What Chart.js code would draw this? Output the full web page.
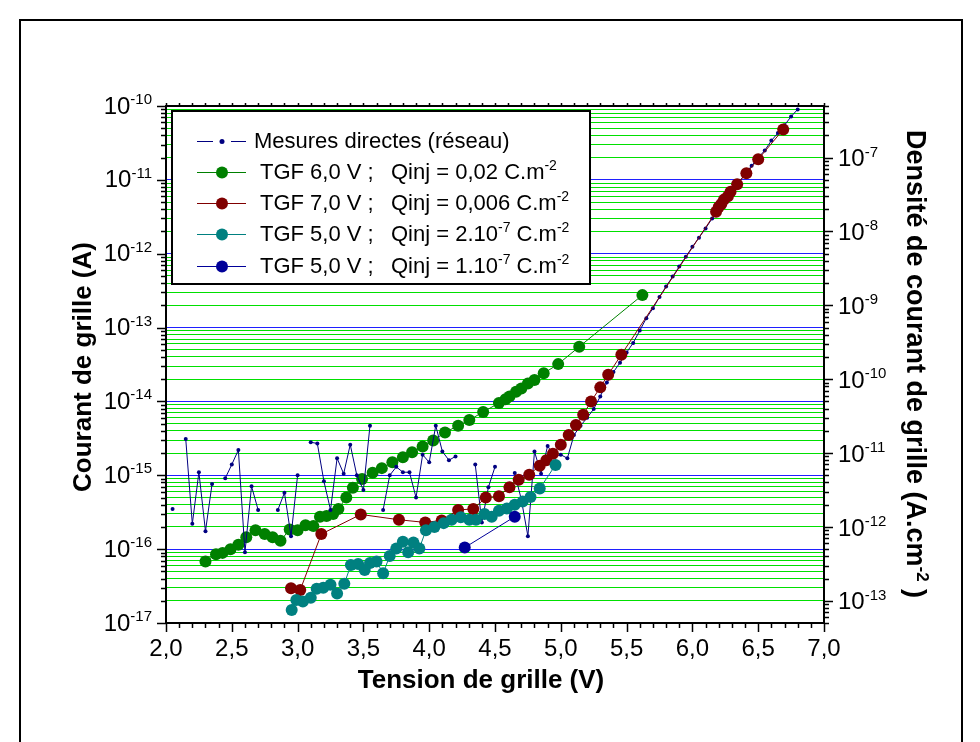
<!DOCTYPE html>
<html>
<head>
<meta charset="utf-8">
<script src="https://cdn.jsdelivr.net/npm/chart.js@4.4.1/dist/chart.umd.min.js"></script>
<style>
html, body { margin: 0; padding: 0; background: #fff; }
#wrap { width: 980px; height: 742px; }
</style>
</head>
<body>
<div id="wrap"><canvas id="chart" width="980" height="742"></canvas></div>
<script>
// Tension de grille (V) -> courant de grille (A)
const mesuresV = [
  2.05, 2.10, 2.15, 2.20, 2.25, 2.30, 2.35, 2.40, 2.45, 2.50,
  2.55, 2.60, 2.65, 2.70, 2.75, 2.80, 2.85, 2.90, 2.95, 3.00,
  3.05, 3.10, 3.15, 3.20, 3.25, 3.30, 3.35, 3.40, 3.45, 3.50,
  3.55, 3.60, 3.65, 3.70, 3.75, 3.80, 3.85, 3.90, 3.95, 4.00,
  4.05, 4.10, 4.15, 4.20, 4.25, 4.30, 4.35, 4.40, 4.45, 4.50,
  4.55, 4.60, 4.65, 4.70, 4.75, 4.80, 4.85, 4.90, 4.95, 5.00,
  5.05, 5.10, 5.15, 5.20, 5.25, 5.30, 5.35, 5.40, 5.45, 5.50,
  5.55, 5.60, 5.65, 5.70, 5.75, 5.80, 5.85, 5.90, 5.95, 6.00,
  6.05, 6.10, 6.15, 6.20, 6.25, 6.30, 6.35, 6.40, 6.45, 6.50,
  6.55, 6.60, 6.65, 6.70, 6.75, 6.80
];
const mesuresI = [
  3.5e-16, null, 3.1e-15, 2.2e-16, 1.1e-15, 1.75e-16, 7.6e-16, null, 9.1e-16, 1.4e-15,
  2.2e-15, 9.1e-17, 7.1e-16, 3.4e-16, null, null, 3.4e-16, 5.8e-16, 1.5e-16, 1.0e-15,
  null, 2.8e-15, 2.7e-15, 8.3e-16, 3.4e-16, 1.7e-15, 1.05e-15, 2.6e-15, 1.0e-15, 6.3e-16,
  4.7e-15, null, 3.4e-16, 1.0e-15, 1.3e-15, 1.1e-15, 1.1e-15, 5.0e-16, 1.9e-15, 1.5e-15,
  4.7e-15, 2.1e-15, 1.6e-15, 1.8e-15, null, null, 1.4e-15, 2.3e-16, 6.9e-16, 1.3e-15,
  null, null, 1.07e-15, 4.7e-16, 1.5e-16, 2.1e-15, 1.05e-15, 2.5e-15, 1.8e-15, 1.9e-15,
  1.7e-15, 3.5e-15, 4.7e-15, 6.0e-15, 7.9e-15, 1.17e-14, 1.8e-14, 2.5e-14, 3.35e-14, 4.6e-14,
  6.2e-14, 9.1e-14, 1.34e-13, 1.82e-13, 2.6e-13, 3.6e-13, 4.9e-13, 6.7e-13, 9.1e-13, 1.24e-12,
  1.65e-12, 2.2e-12, 3.0e-12, 4.0e-12, 5.2e-12, 6.9e-12, 9.1e-12, 1.2e-11, 1.55e-11, 2.0e-11,
  2.5e-11, 3.4e-11, 4.3e-11, 5.5e-11, 7.2e-11, 9.0e-11
];

const tgf6V = [2.30, 2.38, 2.43, 2.49, 2.55, 2.61, 2.68, 2.75, 2.81, 2.87, 2.94, 3.00, 3.06, 3.12, 3.17, 3.22,
  3.27, 3.31, 3.37, 3.42, 3.49, 3.57, 3.64, 3.72, 3.80, 3.87, 3.95, 4.03, 4.12, 4.22, 4.305, 4.41,
  4.53, 4.58, 4.61, 4.66, 4.70, 4.75, 4.80, 4.87, 4.98, 5.14, 5.62];
const tgf6I = [6.8e-17, 8.5e-17, 8.9e-17, 1.0e-16, 1.15e-16, 1.45e-16, 1.8e-16, 1.6e-16, 1.45e-16, 1.3e-16, 1.85e-16, 1.8e-16, 2.1e-16, 2.05e-16, 2.75e-16, 2.8e-16,
  3.0e-16, 3.5e-16, 5.0e-16, 6.8e-16, 8.9e-16, 1.08e-15, 1.25e-15, 1.5e-15, 1.75e-15, 2.05e-15, 2.45e-15, 2.95e-15, 3.8e-15, 4.7e-15, 5.6e-15, 7.2e-15,
  9.5e-15, 1.07e-14, 1.17e-14, 1.35e-14, 1.5e-14, 1.75e-14, 1.95e-14, 2.4e-14, 3.2e-14, 5.5e-14, 2.75e-13];

const tgf7V = [2.95, 3.02, 3.18, 3.48, 3.77, 3.97, 4.095, 4.22, 4.335, 4.43, 4.53, 4.61, 4.68, 4.76, 4.84, 4.89,
  4.94, 5.00, 5.06, 5.115, 5.17, 5.23, 5.30, 5.36, 5.46, 6.18, 6.20, 6.22, 6.24, 6.27, 6.29, 6.34, 6.41, 6.50, 6.69];
const tgf7I = [2.95e-17, 2.8e-17, 1.6e-16, 2.95e-16, 2.5e-16, 2.3e-16, 2.45e-16, 3.4e-16, 3.5e-16, 5.0e-16, 5.2e-16, 6.9e-16, 8.7e-16, 1.02e-15, 1.35e-15, 1.6e-15,
  1.95e-15, 2.6e-15, 3.5e-15, 4.8e-15, 6.6e-15, 1.0e-14, 1.55e-14, 2.3e-14, 4.3e-14, 3.7e-12, 4.3e-12, 4.7e-12, 5.4e-12, 6.0e-12, 6.9e-12, 8.7e-12, 1.23e-11, 1.9e-11, 4.8e-11];

const tgf5aV = [2.955, 2.99, 3.04, 3.10, 3.145, 3.195, 3.25, 3.30, 3.355, 3.405, 3.46, 3.51, 3.55, 3.60, 3.65, 3.70,
  3.75, 3.80, 3.84, 3.88, 3.925, 3.975, 4.04, 4.11, 4.17, 4.24, 4.305, 4.355, 4.42, 4.475, 4.53, 4.59,
  4.65, 4.71, 4.77, 4.84, 4.96];
const tgf5aI = [1.5e-17, 2.05e-17, 1.95e-17, 2.2e-17, 2.9e-17, 3.0e-17, 3.3e-17, 2.5e-17, 3.4e-17, 6.1e-17, 6.3e-17, 5.2e-17, 6.5e-17, 6.8e-17, 4.7e-17, 8.1e-17,
  1.02e-16, 1.26e-16, 9.1e-17, 1.23e-16, 1.02e-16, 1.8e-16, 2.0e-16, 2.25e-16, 2.5e-16, 2.7e-16, 2.5e-16, 2.5e-16, 3.0e-16, 2.75e-16, 3.3e-16, 3.55e-16,
  4.0e-16, 4.4e-16, 5.1e-16, 6.6e-16, 1.38e-15];

const tgf5bV = [4.27, 4.65];
const tgf5bI = [1.05e-16, 2.75e-16];

const xMajorTicks = [2.0, 2.5, 3.0, 3.5, 4.0, 4.5, 5.0, 5.5, 6.0, 6.5, 7.0];
const xTickLabels = ['2,0', '2,5', '3,0', '3,5', '4,0', '4,5', '5,0', '5,5', '6,0', '6,5', '7,0'];
const leftDecades = [-17, -16, -15, -14, -13, -12, -11, -10];
const rightDecades = [-13, -12, -11, -10, -9, -8, -7];

const seriesNames = ['Mesures directes (réseau)', 'TGF 6,0 V ;', 'TGF 7,0 V ;', 'TGF 5,0 V ;', 'TGF 5,0 V ;'];
const seriesQinj = ['', 'Qinj = 0,02 C.m^{-2}', 'Qinj = 0,006 C.m^{-2}', 'Qinj = 2.10^{-7} C.m^{-2}', 'Qinj = 1.10^{-7} C.m^{-2}'];
const seriesColors = ['#000080', '#008000', '#800000', '#008080', '#000099'];

const yMin = 1e-17, yMax = 1e-10;
const surface = 2e-4; // cm2, densité = courant / surface

const FAM = '"Liberation Sans", Arial, Helvetica, sans-serif';

function pts(xs, ys) {
  return xs.map((x, i) => ({ x: x, y: ys[i] }));
}

function isDecade(v) {
  const l = Math.log10(v);
  return Math.abs(l - Math.round(l)) < 1e-6;
}

function logTicks(min, max) {
  const out = [];
  const e0 = Math.floor(Math.log10(min)), e1 = Math.ceil(Math.log10(max));
  for (let e = e0; e <= e1; e++) {
    for (let m = 1; m <= 9; m++) {
      const v = Number(m + 'e' + e);
      if (v >= min * 0.9999 && v <= max * 1.0001) out.push({ value: v });
    }
  }
  return out;
}

function parseRich(s) {
  const parts = [];
  const re = /\^\{([^}]*)\}/g;
  let last = 0, m;
  while ((m = re.exec(s))) {
    if (m.index > last) parts.push({ t: s.slice(last, m.index), sup: false });
    parts.push({ t: m[1], sup: true });
    last = re.lastIndex;
  }
  if (last < s.length) parts.push({ t: s.slice(last), sup: false });
  return parts;
}

function drawRich(ctx, s, x, y, size, bold, align) {
  const parts = parseRich(s);
  const f1 = (bold ? 'bold ' : '') + size + 'px ' + FAM;
  const f2 = (bold ? 'bold ' : '') + Math.round(size * 0.62) + 'px ' + FAM;
  let total = 0;
  parts.forEach(p => {
    ctx.font = p.sup ? f2 : f1;
    p.w = ctx.measureText(p.t).width;
    total += p.w;
  });
  let cx = x;
  if (align === 'right') cx = x - total;
  if (align === 'center') cx = x - total / 2;
  ctx.textAlign = 'left';
  ctx.textBaseline = 'middle';
  parts.forEach(p => {
    ctx.font = p.sup ? f2 : f1;
    ctx.fillText(p.t, cx, p.sup ? y - size * 0.3 : y);
    cx += p.w;
  });
  return total;
}

const decor = {
  id: 'decor',
  afterDraw(chart) {
    const ctx = chart.ctx;
    const a = chart.chartArea;
    const sx = chart.scales.x, sy = chart.scales.y, sy2 = chart.scales.y2;
    ctx.save();
    ctx.fillStyle = '#000';
    ctx.strokeStyle = '#000';

    // ticks
    ctx.lineWidth = 1.5;
    ctx.beginPath();
    sy.ticks.forEach(t => {
      const y = Math.round(sy.getPixelForValue(t.value)) + 0.5;
      const len = isDecade(t.value) ? 9 : 5;
      ctx.moveTo(a.left, y); ctx.lineTo(a.left - len, y);
    });
    sy2.ticks.forEach(t => {
      const y = Math.round(sy2.getPixelForValue(t.value)) + 0.5;
      const len = isDecade(t.value) ? 9 : 5;
      ctx.moveTo(a.right, y); ctx.lineTo(a.right + len, y);
    });
    for (let k = 20; k <= 70; k++) {
      const x = Math.round(sx.getPixelForValue(k / 10)) + 0.5;
      const len = k % 5 === 0 ? 9 : 5;
      ctx.moveTo(x, a.bottom); ctx.lineTo(x, a.bottom + len);
      ctx.moveTo(x, a.top); ctx.lineTo(x, a.top - 3);
    }
    ctx.stroke();

    // cadre du graphe
    ctx.lineWidth = 2;
    ctx.strokeRect(a.left, a.top, a.right - a.left, a.bottom - a.top);

    // étiquettes
    ctx.fillStyle = '#000';
    xMajorTicks.forEach((v, i) => {
      ctx.font = '24px ' + FAM;
      ctx.textAlign = 'center';
      ctx.textBaseline = 'middle';
      ctx.fillText(xTickLabels[i], sx.getPixelForValue(v), a.bottom + 26);
    });
    leftDecades.forEach(e => {
      drawRich(ctx, '10^{' + e + '}', a.left - 14, sy.getPixelForValue(Number('1e' + e)) + 1, 24, false, 'right');
    });
    rightDecades.forEach(e => {
      drawRich(ctx, '10^{' + e + '}', a.right + 14, sy2.getPixelForValue(Number('1e' + e)) + 2, 24, false, 'left');
    });

    // titres
    drawRich(ctx, 'Tension de grille (V)', 481, 681, 26, true, 'center');
    ctx.save();
    ctx.translate(84, 367);
    ctx.rotate(-Math.PI / 2);
    drawRich(ctx, 'Courant de grille (A)', 0, 0, 26, true, 'center');
    ctx.restore();
    ctx.save();
    ctx.translate(914, 364);
    ctx.rotate(Math.PI / 2);
    drawRich(ctx, 'Densité de courant de grille (A.cm^{-2} )', 0, 0, 27, true, 'center');
    ctx.restore();

    // légende
    const lx = 172, ly = 111, lw = 418, lh = 173;
    ctx.fillStyle = '#fff';
    ctx.fillRect(lx, ly, lw, lh);
    ctx.lineWidth = 2;
    ctx.strokeStyle = '#000';
    ctx.strokeRect(lx, ly, lw, lh);
    const rowY = [141, 172, 203, 234, 266];
    seriesNames.forEach((name, i) => {
      const y = rowY[i];
      const c = seriesColors[i];
      ctx.strokeStyle = c;
      ctx.fillStyle = c;
      ctx.lineWidth = 1;
      ctx.beginPath();
      if (i === 0) {
        ctx.moveTo(197, y + 0.5); ctx.lineTo(213, y + 0.5);
        ctx.moveTo(231, y + 0.5); ctx.lineTo(246, y + 0.5);
        ctx.stroke();
        ctx.beginPath(); ctx.arc(222, y + 0.5, 2.5, 0, Math.PI * 2); ctx.fill();
      } else {
        ctx.moveTo(197, y + 0.5); ctx.lineTo(246, y + 0.5);
        ctx.stroke();
        ctx.beginPath(); ctx.arc(222, y + 0.5, 6, 0, Math.PI * 2); ctx.fill();
      }
      ctx.fillStyle = '#000';
      if (i === 0) {
        drawRich(ctx, name, 254, y + 1, 22, false, 'left');
      } else {
        drawRich(ctx, name, 260, y + 1, 22, false, 'left');
        drawRich(ctx, seriesQinj[i], 391, y + 1, 22, false, 'left');
      }
    });

    // cadre extérieur
    ctx.strokeStyle = '#000';
    ctx.lineWidth = 2;
    ctx.strokeRect(20, 20, 942, 760);
    ctx.restore();
  }
};

const bigPoint = { pointRadius: 6, pointHoverRadius: 6, pointBorderWidth: 0, borderWidth: 1 };

new Chart(document.getElementById('chart'), {
  type: 'line',
  data: {
    datasets: [
      Object.assign({ label: seriesNames[4], data: pts(tgf5bV, tgf5bI), borderColor: seriesColors[4], backgroundColor: seriesColors[4], order: 0 }, bigPoint),
      Object.assign({ label: seriesNames[3], data: pts(tgf5aV, tgf5aI), borderColor: seriesColors[3], backgroundColor: seriesColors[3], order: 1 }, bigPoint),
      Object.assign({ label: seriesNames[2], data: pts(tgf7V, tgf7I), borderColor: seriesColors[2], backgroundColor: seriesColors[2], order: 2 }, bigPoint),
      { label: seriesNames[0], data: pts(mesuresV, mesuresI), borderColor: seriesColors[0], backgroundColor: seriesColors[0],
        borderWidth: 1, pointRadius: 2, pointBorderWidth: 0, spanGaps: false, order: 3 },
      Object.assign({ label: seriesNames[1], data: pts(tgf6V, tgf6I), borderColor: seriesColors[1], backgroundColor: seriesColors[1], order: 4 }, bigPoint)
    ]
  },
  options: {
    responsive: false,
    animation: false,
    devicePixelRatio: 1,
    layout: { padding: { top: 106, left: 0, right: 0, bottom: 0 } },
    plugins: { legend: { display: false }, tooltip: { enabled: false }, title: { display: false } },
    scales: {
      x: {
        type: 'linear', min: 2, max: 7,
        ticks: { display: false },
        grid: { display: false },
        border: { display: false },
        afterFit: s => { s.height = 119; }
      },
      y: {
        type: 'logarithmic', position: 'left', min: yMin, max: yMax,
        ticks: { display: false },
        border: { display: false },
        grid: {
          drawTicks: false,
          lineWidth: 1,
          color: c => isDecade(c.tick.value) ? '#1f1fff' : '#00e000'
        },
        afterBuildTicks: s => { s.ticks = logTicks(yMin, yMax); },
        afterFit: s => { s.width = 166; }
      },
      y2: {
        type: 'logarithmic', position: 'right', min: yMin / surface, max: yMax / surface,
        ticks: { display: false },
        border: { display: false },
        grid: { display: false },
        afterBuildTicks: s => { s.ticks = logTicks(yMin / surface, yMax / surface); },
        afterFit: s => { s.width = 156; }
      }
    }
  },
  plugins: [decor]
});
</script>
</body>
</html>
